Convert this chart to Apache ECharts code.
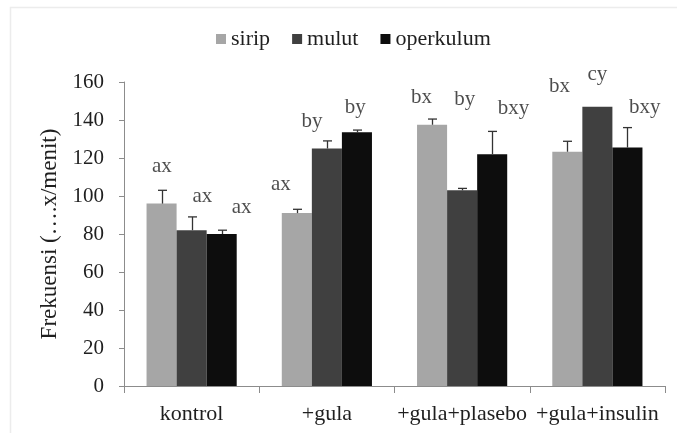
<!DOCTYPE html>
<html>
<head>
<meta charset="utf-8">
<script src="https://cdn.jsdelivr.net/npm/echarts@6/dist/echarts.min.js"></script>
<style>html,body{margin:0;padding:0;background:#fff}#c{width:677px;height:433px}</style>
</head>
<body>
<div id="c"></div>
<script>
// ---- data ----
const categories = ['kontrol', '+gula', '+gula+plasebo', '+gula+insulin'];
const seriesNames = ['sirip', 'mulut', 'operkulum'];
const sirip = [96, 91, 137.5, 123.3];
const siripErr = [7, 2, 3, 5.5];
const mulut = [82, 125, 103, 147];
const mulutErr = [7, 4, 1, 0];
const operkulum = [80, 133.5, 122, 125.5];
const operkulumErr = [2, 1.2, 12, 10.5];
const yTicks = [0, 20, 40, 60, 80, 100, 120, 140, 160];
const yTitle = 'Frekuensi (….x/menit)';
// significance letters and their anchor (category units, value units)
const letters = ['ax', 'ax', 'ax', 'ax', 'by', 'by', 'bx', 'by', 'bxy', 'bx', 'cy', 'bxy'];
const letterX = [0.28, 0.58, 0.87, 1.16, 1.39, 1.71, 2.2, 2.52, 2.88, 3.22, 3.5, 3.85];
const letterY = [115.3, 99.5, 93.7, 105.8, 139, 146.8, 151.6, 151, 145.8, 157.9, 163.7, 146.8];

const colors = ['#a6a6a6', '#404040', '#0d0d0d'];
const values = [sirip, mulut, operkulum];
const errs = [siripErr, mulutErr, operkulumErr];
const font = "'Liberation Serif'";
const textCol = '#1f1f1f';
const axisCol = '#8c8c8c';
const catGap = 1 / 3;

const chart = echarts.init(document.getElementById('c'), null, {renderer: 'canvas'});

const barSeries = seriesNames.map((n, j) => ({
  name: n, type: 'bar', xAxisIndex: 0, yAxisIndex: 0,
  data: values[j], barGap: '0%', barCategoryGap: (catGap * 100) + '%',
  itemStyle: {color: colors[j]}, z: 2
}));

const errSeries = seriesNames.map((n, j) => ({
  name: n + '_err', type: 'custom', xAxisIndex: 0, yAxisIndex: 0, z: 3,
  data: categories.map((c, i) => [i, values[j][i], values[j][i] + errs[j][i]]),
  encode: {x: 0, y: [1, 2]},
  renderItem: function (params, api) {
    const i = api.value(0);
    const lo = api.coord([i, api.value(1)]);
    const hi = api.coord([i, api.value(2)]);
    if (Math.abs(hi[1] - lo[1]) < 0.5) return {type: 'group', children: []};
    const cw = api.size([1, 0])[0];
    const bw = cw * (1 - catGap) / 3;
    const x = Math.round(lo[0] + (j - 1) * bw) + 0.5;
    const st = {stroke: '#333', lineWidth: 1.3};
    return {type: 'group', children: [
      {type: 'line', shape: {x1: x, y1: lo[1], x2: x, y2: hi[1]}, style: st},
      {type: 'line', shape: {x1: x - 4.5, y1: hi[1], x2: x + 4.5, y2: hi[1]}, style: st}
    ]};
  }
}));

const letterSeries = {
  name: 'letters', type: 'scatter', xAxisIndex: 1, yAxisIndex: 0, clip: false,
  symbolSize: 1, itemStyle: {color: 'rgba(0,0,0,0)'}, z: 5,
  data: letters.map((t, k) => [letterX[k], letterY[k], t]),
  label: {show: true, position: 'inside', formatter: p => p.value[2],
    fontFamily: font, fontSize: 21, color: textCol}
};

chart.setOption({
  backgroundColor: '#fff',
  animation: false,
  textStyle: {fontFamily: font},
  graphic: [{type: 'rect', silent: true, z: -10,
    shape: {x: 10.5, y: 7.5, width: 700, height: 460},
    style: {fill: 'none', stroke: '#ececec', lineWidth: 1.5}}],
  legend: {
    data: seriesNames, left: 211, top: 23, icon: 'rect',
    itemWidth: 10, itemHeight: 10, itemGap: 22,
    textStyle: {fontFamily: font, fontSize: 22, color: textCol}
  },
  grid: {left: 124, right: 12, top: 82, bottom: 47},
  xAxis: [
    {type: 'category', data: categories,
      axisLine: {lineStyle: {color: axisCol, width: 1}},
      axisTick: {show: true, length: 7, lineStyle: {color: axisCol}},
      axisLabel: {interval: 0, fontFamily: font, fontSize: 22, color: textCol, margin: 17}},
    {type: 'value', min: 0, max: 4, show: false}
  ],
  yAxis: {
    type: 'value', min: yTicks[0], max: yTicks[yTicks.length - 1], interval: yTicks[1] - yTicks[0],
    axisLine: {show: true, lineStyle: {color: axisCol, width: 1}},
    axisTick: {show: true, length: 5, lineStyle: {color: axisCol}},
    splitLine: {show: false},
    axisLabel: {fontFamily: font, fontSize: 21, color: textCol, margin: 20},
    name: yTitle, nameLocation: 'middle', nameGap: 58,
    nameTextStyle: {fontFamily: font, fontSize: 23, color: textCol}
  },
  series: [...barSeries, ...errSeries, letterSeries]
});
</script>
</body>
</html>
